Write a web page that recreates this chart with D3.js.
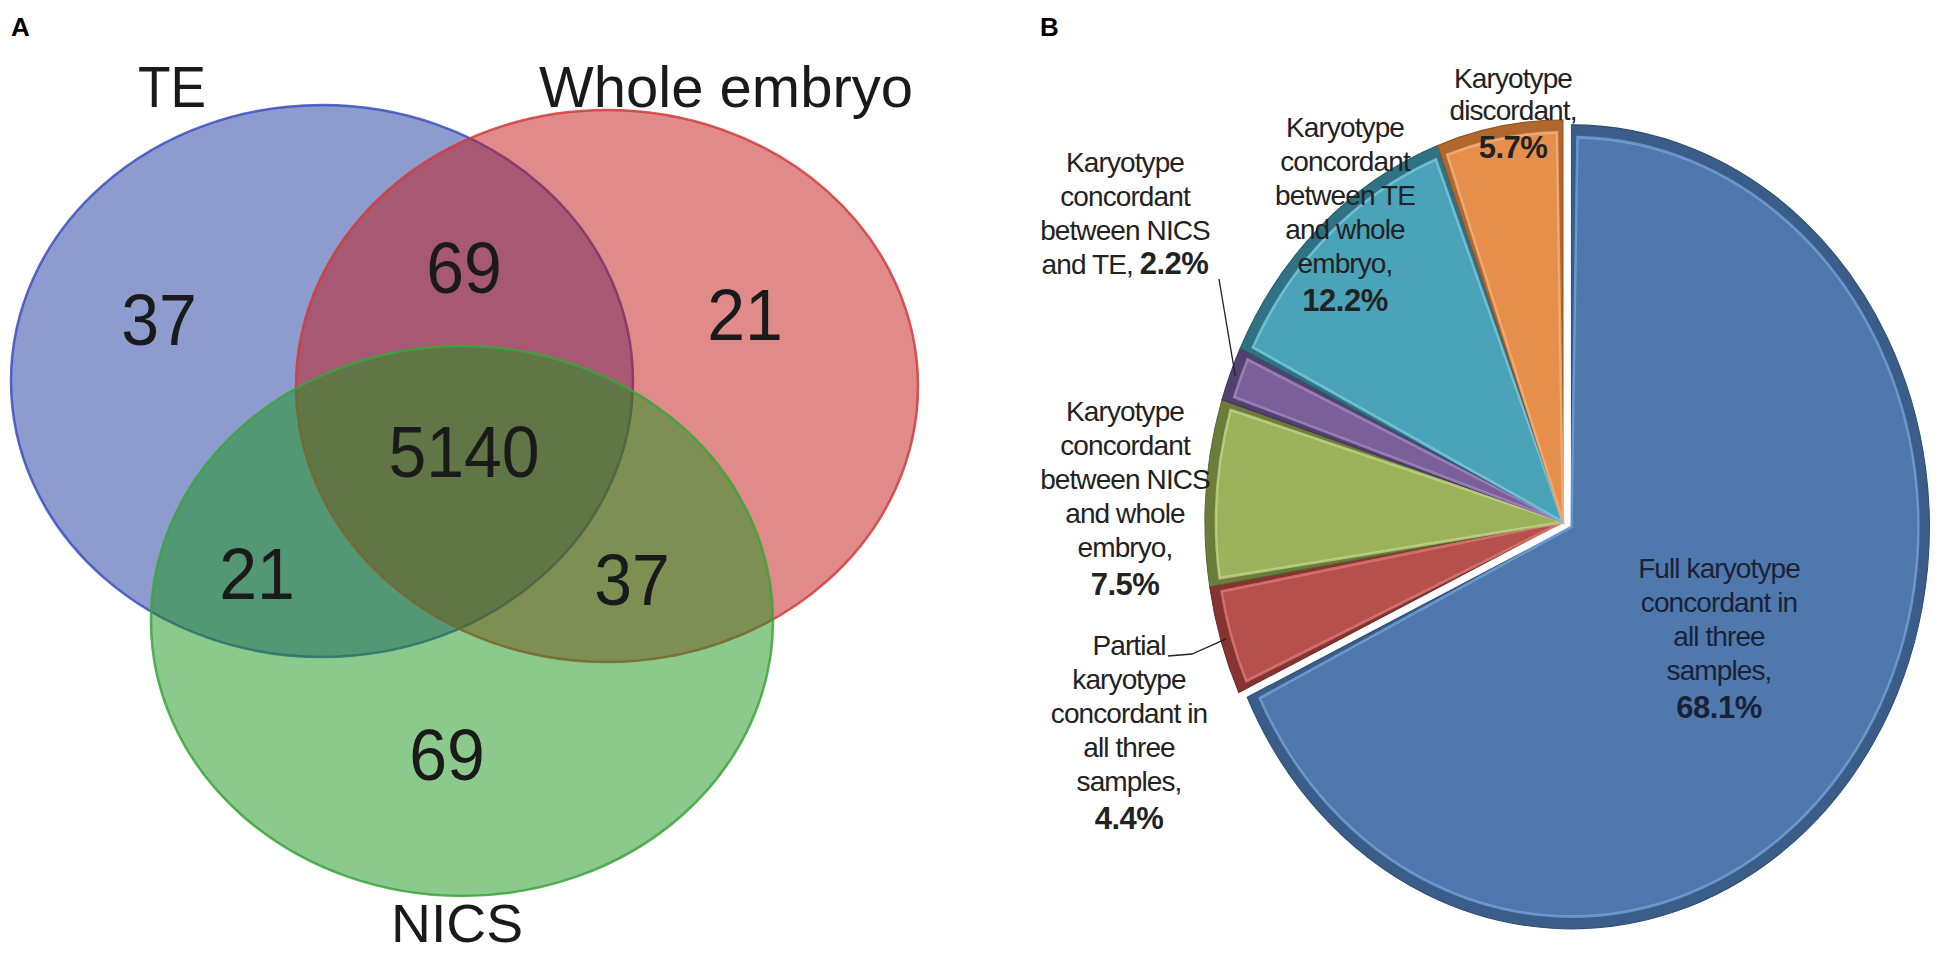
<!DOCTYPE html>
<meta charset="utf-8">
<style>

body {
  margin: 0;
  background: #fff;
}

text {
  font-family: "Liberation Sans", Arial, sans-serif;
}

</style>
<body>
<script src="https://cdn.jsdelivr.net/npm/d3@7"></script>
<script>

var width = 1950,
    height = 957;

// ---- data ----
var vennSets = ["TE", "Whole embryo", "NICS"];
var vennRegions = ["TE", "TE+Whole", "Whole", "All", "TE+NICS", "Whole+NICS", "NICS"];
var vennCounts = [37, 69, 21, 5140, 21, 37, 69];

var pieCategories = [
  "Full karyotype concordant in all three samples",
  "Partial karyotype concordant in all three samples",
  "Karyotype concordant between NICS and whole embryo",
  "Karyotype concordant between NICS and TE",
  "Karyotype concordant between TE and whole embryo",
  "Karyotype discordant"
];
var piePercents = [68.1, 4.4, 7.5, 2.2, 12.2, 5.7];
var pieLabelLines = [
  ["Full karyotype", "concordant in", "all three", "samples,"],
  ["Partial", "karyotype", "concordant in", "all three", "samples,"],
  ["Karyotype", "concordant", "between NICS", "and whole", "embryo,"],
  ["Karyotype", "concordant", "between NICS", "and TE, "],
  ["Karyotype", "concordant", "between TE", "and whole", "embryo,"],
  ["Karyotype", "discordant,"]
];

// ---- layout ----
var ellipses = [
  {cx: 322, cy: 381, rx: 311, ry: 276, fill: "#1b379f", stroke: "#3a4fbf"},
  {cx: 607, cy: 386, rx: 311, ry: 276, fill: "#c11515", stroke: "#d23b3b"},
  {cx: 462, cy: 621, rx: 311, ry: 275, fill: "#199319", stroke: "#3ba53b"}
];
var setLabelPos = [[138, 107, 68, 57], [539, 107, 374, 57], [391, 942, 132, 54]];
var regionPos = [[159, 345], [464, 293], [745, 340], [464, 477], [257, 599], [632, 605], [447, 780]];

var pieCx = 1563, pieCy = 522, pieRx = 358, pieRy = 402;
var sliceColors = [
  {face: "#4f78ac", edge: "#3a5d89", hi: "#78a6dd"},
  {face: "#b5504c", edge: "#873331", hi: "#e27e78"},
  {face: "#9bb15a", edge: "#6c7d3b", hi: "#c6da8d"},
  {face: "#7a5f9a", edge: "#54406e", hi: "#a78cc6"},
  {face: "#4aa3b8", edge: "#2e7283", hi: "#82cde1"},
  {face: "#e68f4c", edge: "#b0682e", hi: "#f8b680"}
];
var labelPos = [[1719, 578], [1129, 655], [1125, 421], [1125, 172], [1345, 137], [1513, 88]];
var labelStep = [34, 34, 34, 34, 34, 32];
var labelInk = ["#1b2238", "#222", "#222", "#222", "#222", "#222"];

var svg = d3.select("body").append("svg")
    .attr("width", width)
    .attr("height", height);

// panel letters
svg.append("text").attr("x", 11).attr("y", 36)
    .style("font-size", "26px").style("font-weight", "bold").text("A");
svg.append("text").attr("x", 1040).attr("y", 36)
    .style("font-size", "26px").style("font-weight", "bold").text("B");

// ---- panel A: venn ----
var venn = svg.append("g");

venn.selectAll("ellipse")
    .data(ellipses)
  .enter().append("ellipse")
    .attr("cx", function(d) { return d.cx; })
    .attr("cy", function(d) { return d.cy; })
    .attr("rx", function(d) { return d.rx; })
    .attr("ry", function(d) { return d.ry; })
    .style("fill", function(d) { return d.fill; })
    .style("fill-opacity", .5)
    .style("stroke", function(d) { return d.stroke; })
    .style("stroke-opacity", .85)
    .style("stroke-width", 2.5);

venn.selectAll(".set")
    .data(vennSets)
  .enter().append("text")
    .attr("class", "set")
    .attr("x", function(d, i) { return setLabelPos[i][0]; })
    .attr("y", function(d, i) { return setLabelPos[i][1]; })
    .attr("textLength", function(d, i) { return setLabelPos[i][2]; })
    .attr("lengthAdjust", "spacingAndGlyphs")
    .style("font-size", function(d, i) { return setLabelPos[i][3] + "px"; })
    .style("fill", "#1a1a1a")
    .text(function(d) { return d; });

// digits in the source are a little narrower than Arial
var countSize = 72;
venn.selectAll(".count")
    .data(vennCounts)
  .enter().append("text")
    .attr("class", "count")
    .attr("x", function(d, i) { return regionPos[i][0]; })
    .attr("y", function(d, i) { return regionPos[i][1]; })
    .attr("text-anchor", "middle")
    .attr("textLength", function(d) { return String(d).length * countSize * 0.525; })
    .attr("lengthAdjust", "spacingAndGlyphs")
    .style("font-size", countSize + "px")
    .style("fill", "#1a1a1a")
    .text(function(d) { return d; });

// ---- panel B: pie ----
var pct = function(v) { return d3.format(".1f")(v) + "%"; };

var arcs = d3.pie().sort(null).value(function(d) { return d; })(piePercents);

var outer = d3.arc().innerRadius(0).outerRadius(pieRx);
var inner = d3.arc().innerRadius(0).outerRadius(pieRx - 11)
    .padAngle(12 / pieRx).padRadius(pieRx);

var pie = svg.append("g")
    .attr("transform", "translate(" + pieCx + "," + pieCy + ") scale(1," + (pieRy / pieRx) + ")");

var slice = pie.selectAll(".slice")
    .data(arcs)
  .enter().append("g")
    .attr("class", "slice")
    .attr("transform", function(d, i) {
      if (i) return null;
      var a = (d.startAngle + d.endAngle) / 2;
      return "translate(" + 10 * Math.sin(a) + "," + -8 * Math.cos(a) + ")";
    });

slice.append("path")
    .attr("d", outer)
    .style("fill", function(d, i) { return sliceColors[i].edge; })
    .style("stroke", function(d, i) { return d3.color(sliceColors[i].edge).darker(0.6); })
    .style("stroke-width", 1);

slice.append("path")
    .attr("d", inner)
    .style("fill", function(d, i) { return sliceColors[i].face; })
    .style("stroke", function(d, i) { return sliceColors[i].hi; })
    .style("stroke-opacity", .75)
    .style("stroke-width", 2.5);

// leader lines for the two thin slices
function rimPoint(d, k) {
  var a = (d.startAngle + d.endAngle) / 2;
  return [pieCx + pieRx * k * Math.sin(a), pieCy - pieRy * k * Math.cos(a)];
}
var leaders = [
  {i: 3, pts: [[1219, 279]]},
  {i: 1, pts: [[1168, 656], [1192, 654]]}
];
svg.selectAll(".leader")
    .data(leaders)
  .enter().append("path")
    .attr("class", "leader")
    .attr("d", function(l) { return d3.line()(l.pts.concat([rimPoint(arcs[l.i], 0.985)])); })
    .style("fill", "none")
    .style("stroke", "#222")
    .style("stroke-width", 1.3);

// slice labels
var labels = svg.selectAll(".label")
    .data(pieCategories)
  .enter().append("text")
    .attr("class", "label")
    .attr("text-anchor", "middle")
    .style("font-size", "28px")
    .style("letter-spacing", "-0.9px")
    .style("fill", function(d, i) { return labelInk[i]; });

labels.each(function(d, i) {
  var t = d3.select(this),
      lines = pieLabelLines[i],
      x = labelPos[i][0],
      y = labelPos[i][1],
      step = labelStep[i];
  lines.forEach(function(line, j) {
    t.append("tspan").attr("x", x).attr("y", y + j * step).text(line);
  });
  var inline = /, $/.test(lines[lines.length - 1]);
  var b = t.append("tspan")
      .style("font-weight", "bold")
      .style("font-size", "31px")
      .style("letter-spacing", "-0.5px")
      .text(pct(piePercents[i]));
  if (!inline) b.attr("x", x).attr("y", y + (lines.length - 1) * step + 38);
});

</script>
